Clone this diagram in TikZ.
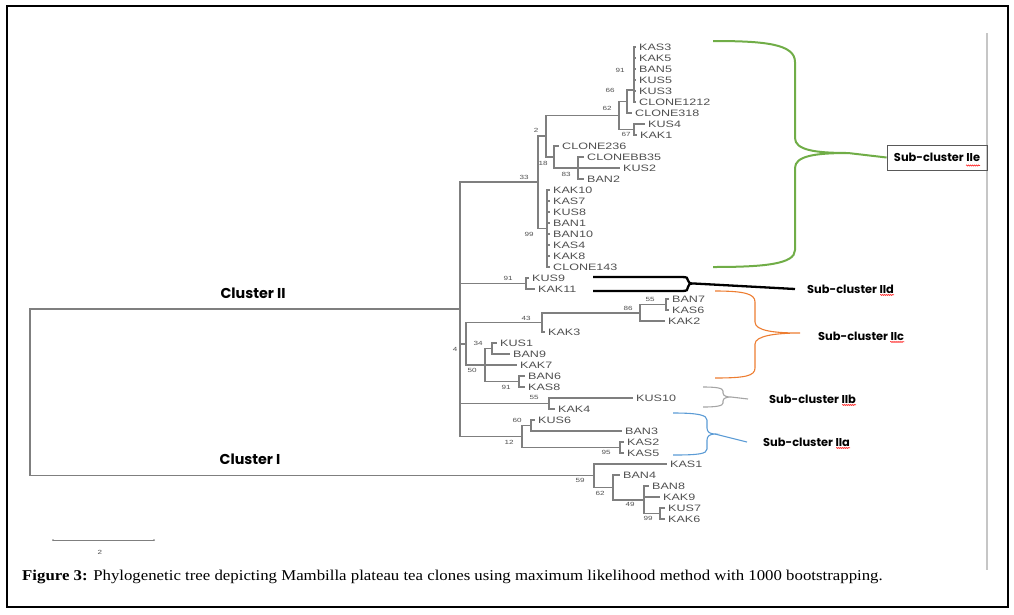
\documentclass[tikz,border=0pt]{standalone}
\usepackage{fontspec}
\setmainfont{Liberation Serif}
\newfontfamily\capfont[FakeStretch=1.12]{Liberation Serif}
\newfontfamily\leaffont[FakeStretch=1.35]{Liberation Sans}
\newfontfamily\subfont{Poppins}
\usetikzlibrary{decorations.pathmorphing}
\definecolor{treegray}{HTML}{7F7F7F}
\definecolor{labgray}{HTML}{505050}
\definecolor{bracegreen}{HTML}{70AD47}
\definecolor{braceorange}{HTML}{ED7D31}
\definecolor{braceblue}{HTML}{5B9BD5}
\definecolor{bracegray}{HTML}{A5A5A5}
\newcommand\lf[4]{\coordinate (#1) at (#2,#3); \node[leaflab] (#1l) at ([xshift=3pt]#1) {#4};}
\begin{document}
\begin{tikzpicture}[x=1pt,y=-1pt,
  branch/.style={draw=treegray,line width=1.1pt},
  leaflab/.style={anchor=west,inner sep=0pt,font=\leaffont\fontsize{9.3}{10}\selectfont,text=labgray},
  boot/.style={inner sep=0pt,font=\leaffont\fontsize{6}{6}\selectfont,text=labgray},
  sublab/.style={anchor=west,inner sep=0pt,font=\subfont\bfseries\fontsize{11.4}{12}\selectfont},
  clulab/.style={inner sep=0pt,font=\subfont\bfseries\fontsize{14.3}{15}\selectfont},
  squig/.style={draw=red,line width=0.5pt,decorate,decoration={snake,amplitude=0.6pt,segment length=2pt}}]
\useasboundingbox (0,0) rectangle (1014,614);
% frame
\draw[line width=1.2pt] (7,6) rectangle (1008,607);
\draw[gray!45,line width=1.5pt] (987,33) -- (987,570);

% ---------- leaves ----------
\lf{KAS3}{636}{47}{KAS3}
\lf{KAK5}{636}{58}{KAK5}
\lf{BAN5}{636}{69}{BAN5}
\lf{KUS5}{636}{80}{KUS5}
\lf{KUS3}{636}{91}{KUS3}
\lf{CLONE1212}{636}{102}{CLONE1212}
\lf{CLONE318}{632}{113}{CLONE318}
\lf{KUS4}{645}{124}{KUS4}
\lf{KAK1}{637}{135}{KAK1}
\lf{CLONE236}{559}{146}{CLONE236}
\lf{CLONEBB35}{584}{157}{CLONEBB35}
\lf{KUS2}{620}{168}{KUS2}
\lf{BAN2}{584}{179}{BAN2}
\lf{KAK10}{550}{190}{KAK10}
\lf{KAS7}{550}{201}{KAS7}
\lf{KUS8}{550}{212}{KUS8}
\lf{BAN1}{550}{223}{BAN1}
\lf{BAN10}{550}{234}{BAN10}
\lf{KAS4}{550}{245}{KAS4}
\lf{KAK8}{550}{256}{KAK8}
\lf{CLONE143}{550}{267}{CLONE143}
\lf{KUS9}{529}{278}{KUS9}
\lf{KAK11}{535}{289}{KAK11}
\lf{BAN7}{669}{299}{BAN7}
\lf{KAS6}{669}{310}{KAS6}
\lf{KAK2}{665}{321}{KAK2}
\lf{KAK3}{545}{332}{KAK3}
\lf{KUS1}{497}{343}{KUS1}
\lf{BAN9}{510}{354}{BAN9}
\lf{KAK7}{517}{365}{KAK7}
\lf{BAN6}{525}{376}{BAN6}
\lf{KAS8}{525}{387}{KAS8}
\lf{KUS10}{633}{398}{KUS10}
\lf{KAK4}{555}{409}{KAK4}
\lf{KUS6}{535}{420}{KUS6}
\lf{BAN3}{622}{431}{BAN3}
\lf{KAS2}{624}{442}{KAS2}
\lf{KAS5}{624}{453}{KAS5}
\lf{KAS1}{667}{464}{KAS1}
\lf{BAN4}{620}{475}{BAN4}
\lf{BAN8}{649}{486}{BAN8}
\lf{KAK9}{660}{497}{KAK9}
\lf{KUS7}{665}{508}{KUS7}
\lf{KAK6}{665}{519}{KAK6}

% ---------- internal nodes ----------
\coordinate (P1) at (634,90);
\coordinate (N66) at (627,101.5);
\coordinate (N67) at (634,129.5);
\coordinate (N62) at (619,115.5);
\coordinate (N83) at (578,168);
\coordinate (N18) at (554,157);
\coordinate (N2) at (546,136);
\coordinate (P99) at (547,228.5);
\coordinate (N33) at (538,182);
\coordinate (N91a) at (526,283.5);
\coordinate (N55) at (666,304.5);
\coordinate (N86) at (640,313);
\coordinate (N43) at (542,322.5);
\coordinate (N34) at (492,348.5);
\coordinate (N91b) at (519,381.5);
\coordinate (N50) at (485,365);
\coordinate (N4) at (466,344);
\coordinate (N55b) at (549,403.5);
\coordinate (N60) at (531,425.5);
\coordinate (N95) at (620,447.5);
\coordinate (N12) at (522,436.5);
\coordinate (N460) at (460,309);
\coordinate (N99b) at (660,513.5);
\coordinate (N49) at (644,500);
\coordinate (N62b) at (613,487.5);
\coordinate (N59) at (594,475.75);
\coordinate (root) at (30,392);

% ---------- branches ----------
\foreach \c in {KAS3,KAK5,BAN5,KUS5,KUS3,CLONE1212} \draw[branch] (P1) |- (\c);
\foreach \c in {P1,CLONE318} \draw[branch] (N66) |- (\c);
\foreach \c in {KUS4,KAK1} \draw[branch] (N67) |- (\c);
\foreach \c in {N66,N67} \draw[branch] (N62) |- (\c);
\foreach \c in {CLONEBB35,KUS2,BAN2} \draw[branch] (N83) |- (\c);
\foreach \c in {CLONE236,N83} \draw[branch] (N18) |- (\c);
\foreach \c in {N62,N18} \draw[branch] (N2) |- (\c);
\foreach \c in {KAK10,KAS7,KUS8,BAN1,BAN10,KAS4,KAK8,CLONE143} \draw[branch] (P99) |- (\c);
\foreach \c in {N2,P99} \draw[branch] (N33) |- (\c);
\foreach \c in {KUS9,KAK11} \draw[branch] (N91a) |- (\c);
\foreach \c in {BAN7,KAS6} \draw[branch] (N55) |- (\c);
\foreach \c in {N55,KAK2} \draw[branch] (N86) |- (\c);
\foreach \c in {N86,KAK3} \draw[branch] (N43) |- (\c);
\foreach \c in {KUS1,BAN9} \draw[branch] (N34) |- (\c);
\foreach \c in {BAN6,KAS8} \draw[branch] (N91b) |- (\c);
\foreach \c in {N34,KAK7,N91b} \draw[branch] (N50) |- (\c);
\foreach \c in {N43,N50} \draw[branch] (N4) |- (\c);
\foreach \c in {KUS10,KAK4} \draw[branch] (N55b) |- (\c);
\foreach \c in {KUS6,BAN3} \draw[branch] (N60) |- (\c);
\foreach \c in {KAS2,KAS5} \draw[branch] (N95) |- (\c);
\foreach \c in {N60,N95} \draw[branch] (N12) |- (\c);
\foreach \c in {N33,N91a,N4,N55b,N12} \draw[branch] (N460) |- (\c);
\foreach \c in {KUS7,KAK6} \draw[branch] (N99b) |- (\c);
\foreach \c in {BAN8,KAK9,N99b} \draw[branch] (N49) |- (\c);
\foreach \c in {BAN4,N49} \draw[branch] (N62b) |- (\c);
\foreach \c in {KAS1,N62b} \draw[branch] (N59) |- (\c);
\foreach \c in {N460,N59} \draw[branch] (root) |- (\c);

% ---------- bootstrap values ----------
\node[boot] (b1) at (620,70) {91};
\node[boot] (b2) at (610,90) {66};
\node[boot] (b3) at (607,108) {62};
\node[boot] (b4) at (626,134) {67};
\node[boot] (b5) at (536,130) {2};
\node[boot] (b6) at (543,163) {18};
\node[boot] (b7) at (566,174) {83};
\node[boot] (b8) at (524,177) {33};
\node[boot] (b9) at (529,234) {99};
\node[boot] (b10) at (508,278) {91};
\node[boot] (b11) at (650,299) {55};
\node[boot] (b12) at (628,308) {86};
\node[boot] (b13) at (526,318) {43};
\node[boot] (b14) at (478,343) {34};
\node[boot] (b15) at (455,349) {4};
\node[boot] (b16) at (472,370) {50};
\node[boot] (b17) at (506,387) {91};
\node[boot] (b18) at (534,397) {55};
\node[boot] (b19) at (517,420) {60};
\node[boot] (b20) at (509,442) {12};
\node[boot] (b21) at (606,452) {95};
\node[boot] (b22) at (580,480) {59};
\node[boot] (b23) at (600,493) {62};
\node[boot] (b24) at (630,504) {49};
\node[boot] (b25) at (648,518) {99};

% ---------- cluster labels ----------
\node[clulab] (c2) at (253,293) {Cluster II};
\node[clulab] (c1) at (250,459) {Cluster I};

% ---------- sub-cluster labels ----------
\node[draw=gray!70!black,line width=0.8pt,minimum width=100pt,minimum height=25pt,inner sep=0pt,
      font=\subfont\bfseries\fontsize{11.4}{12}\selectfont] (IIe) at (937,157.5) {Sub-cluster IIe};
\node[sublab] (IId) at (807,289) {Sub-cluster IId};
\node[sublab] (IIc) at (818,336) {Sub-cluster IIc};
\node[sublab] (IIb) at (769,399) {Sub-cluster IIb};
\node[sublab] (IIa) at (763,442) {Sub-cluster IIa};
\foreach \n in {IId,IIc,IIb,IIa}
  \draw[squig] ([xshift=-14pt,yshift=-1.5pt]\n.south east) -- ([yshift=-1.5pt]\n.south east);
\draw[squig] ([xshift=29pt,yshift=-8pt]IIe.center) -- ++(14pt,0);

% ---------- braces ----------
\coordinate (tipE) at (848,153);
\draw[bracegreen,line width=2pt]
  (713,41) .. controls (765,41) and (795,44) .. (795,62) -- (795,138)
  .. controls (795,150) and (815,153) .. (tipE)
  .. controls (815,153) and (795,156) .. (795,168) -- (795,250)
  .. controls (795,264) and (765,267) .. (713,267);
\draw[bracegreen,line width=2pt] (tipE) -- (IIe.west);

\coordinate (tipD) at (694,283.5);
\draw[black,line width=2.3pt]
  (593,277) -- (682,277) .. controls (687,277) and (688,278) .. (688,280.5)
  .. controls (688,283) and (690,283.5) .. (tipD)
  .. controls (690,283.5) and (688,284) .. (688,287)
  .. controls (688,290) and (687,291) .. (682,291) -- (593,291);
\draw[black,line width=2.3pt] (tipD) -- ([xshift=-12pt]IId.west);

\coordinate (tipC) at (800,333);
\draw[braceorange,line width=1.1pt]
  (715,291) .. controls (745,291) and (755,294) .. (755,302) -- (755,322)
  .. controls (755,331) and (775,333) .. (tipC)
  .. controls (775,333) and (755,336) .. (755,344) -- (755,368)
  .. controls (755,376) and (745,378) .. (715,378);

\coordinate (tipB) at (731,397);
\draw[bracegray,line width=1.1pt]
  (703,387) .. controls (716,387) and (723,388) .. (723,391) -- (723,393)
  .. controls (723,396) and (727,397) .. (tipB)
  .. controls (727,397) and (723,398) .. (723,401) -- (723,403)
  .. controls (723,406) and (716,407) .. (703,407);
\draw[bracegray,line width=1.1pt] (tipB) -- ([xshift=-21pt]IIb.west);

\coordinate (tipA) at (715,434);
\draw[braceblue,line width=1.1pt]
  (673,413) .. controls (698,413) and (707,415) .. (707,420) -- (707,428)
  .. controls (707,432) and (710,434) .. (tipA)
  .. controls (710,434) and (707,436) .. (707,440) -- (707,449)
  .. controls (707,454) and (698,455) .. (673,455);
\draw[braceblue,line width=1.1pt] (tipA) -- ([xshift=-16pt]IIa.west);

% ---------- scale bar ----------
\coordinate (sb1) at (53,540);
\coordinate (sb2) at (154,540);
\draw[treegray,line width=0.8pt] (sb1) -- (sb2);
\fill[treegray] (sb1) circle (1pt) (sb2) circle (1pt);
\node[boot] (sbl) at (100,552) {2};

% ---------- caption ----------
\node[anchor=base west,inner sep=0pt,font=\capfont\fontsize{15}{16}\selectfont] (cap) at (22,580)
  {\textbf{Figure 3:} Phylogenetic tree depicting Mambilla plateau tea clones using maximum likelihood method with 1000 bootstrapping.};
\end{tikzpicture}
\end{document}
